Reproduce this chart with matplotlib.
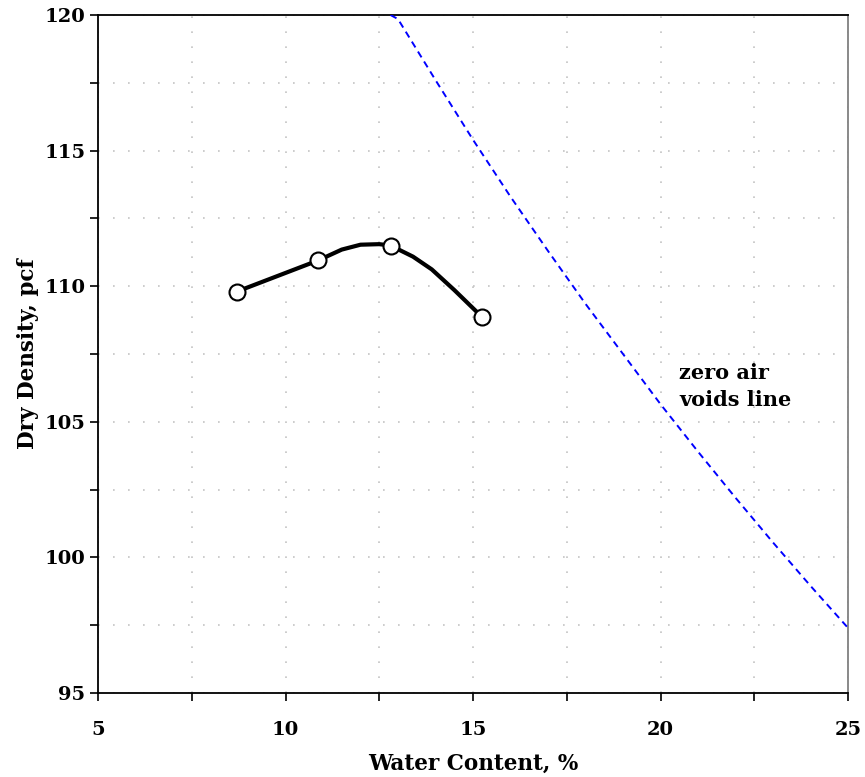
import matplotlib
matplotlib.use("Agg")
import matplotlib.pyplot as plt
from matplotlib.ticker import MultipleLocator

# Compaction test points
water_pts = [8.71, 10.87, 12.81, 15.24]
density_pts = [109.80, 110.96, 111.47, 108.88]

# Hand-drawn compaction curve
curve_w = [8.70, 10.87, 11.5, 12.0, 12.5, 12.8, 13.4, 13.9, 14.5, 15.23]
curve_d = [109.80, 110.95, 111.35, 111.53, 111.55, 111.50, 111.09, 110.62, 109.86, 108.88]

# Zero air voids line
zav_w = [12.8, 13, 14, 15, 16, 17, 18, 19, 20, 21, 22, 23, 24, 25]
zav_d = [120.0, 119.85, 117.6, 115.4, 113.3, 111.3, 109.35, 107.5, 105.65, 103.9, 102.2, 100.55, 98.95, 97.4]

x_ticks = [5, 10, 15, 20, 25]
y_ticks = [95, 100, 105, 110, 115, 120]

plt.rcParams['font.family'] = ['DejaVu Serif']
plt.rcParams['font.weight'] = 'bold'

fig = plt.figure(figsize=(8.65, 7.77), dpi=100)
ax = fig.add_axes([98/865, 1-693/777, (848-98)/865, (693-15)/777])

ax.set_xlim(5, 25)
ax.set_ylim(95, 120)
ax.set_xticks(x_ticks)
ax.set_yticks(y_ticks)
ax.xaxis.set_minor_locator(MultipleLocator(2.5))
ax.yaxis.set_minor_locator(MultipleLocator(2.5))

ax.grid(True, which='both', color='#c4c4c4', linestyle=(0, (1, 8)), linewidth=1.2)
ax.set_axisbelow(True)

ax.tick_params(axis='both', which='both', direction='out', length=6, width=1.2, color='black')
ax.tick_params(axis='y', which='major', labelsize=14, pad=3)
ax.tick_params(axis='x', which='major', labelsize=14, pad=14)
for lab in ax.get_xticklabels() + ax.get_yticklabels():
    lab.set_fontweight('bold')

for s in ['left', 'bottom', 'top']:
    ax.spines[s].set_color('black')
    ax.spines[s].set_linewidth(1.3)
ax.spines['right'].set_color('#808080')
ax.spines['right'].set_linewidth(1.3)

ax.plot(zav_w, zav_d, color='#0000ff', linestyle=(0, (3.5, 2.5)), linewidth=1.4, zorder=3)
ax.plot(curve_w, curve_d, color='black', linewidth=3, solid_capstyle='round', zorder=4)
ax.plot(water_pts, density_pts, linestyle='none', marker='o', markersize=11.5,
        markerfacecolor='white', markeredgecolor='black', markeredgewidth=1.5, zorder=5)

ax.text(20.5, 106.3, 'zero air\nvoids line', fontsize=15, fontweight='bold',
        ha='left', va='center', linespacing=1.45)

ax.set_xlabel('Water Content, %', fontsize=15.5, fontweight='bold', labelpad=10)
ax.set_ylabel('Dry Density, pcf', fontsize=15.5, fontweight='bold', labelpad=4)

fig.savefig('out.png', dpi=100)
